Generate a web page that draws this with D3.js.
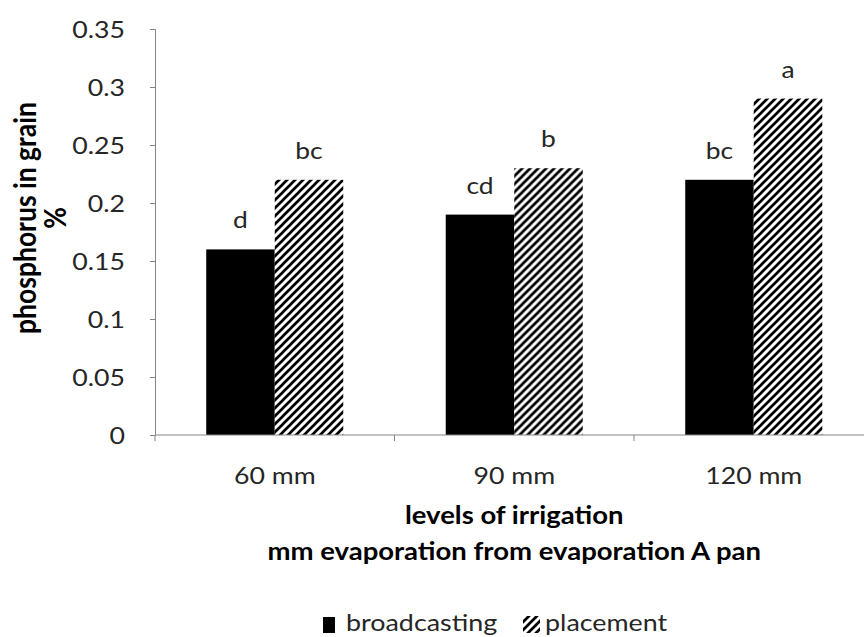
<!DOCTYPE html>
<html>
<head>
<meta charset="utf-8">
<script src="https://cdn.jsdelivr.net/npm/d3@7"></script>
<style>
  body { margin: 0; background: #fff; }
  svg { display: block; font-family: Lato, "Open Sans", sans-serif; }
</style>
</head>
<body>
<div id="chart"></div>
<script>
// data
const categories = ["60 mm", "90 mm", "120 mm"];
const seriesNames = ["broadcasting", "placement"];
const broadcasting = [0.16, 0.19, 0.22];
const placement = [0.22, 0.23, 0.29];
const broadcastingLetters = ["d", "cd", "bc"];
const placementLetters = ["bc", "b", "a"];
const yTicks = [0, 0.05, 0.1, 0.15, 0.2, 0.25, 0.3, 0.35];

const W = 864, H = 637;
const MARGIN = { LEFT: 155, TOP: 29, RIGHT: -9.5, BOTTOM: 202 };
const AXIS = "#868686";
const INK = "#262626";
const SX = 1.16;   // the original text is a bit wide

const svg = d3.select("#chart").append("svg")
    .attr("width", W)
    .attr("height", H);

// diagonal hatch for "placement"
const hatch = svg.append("defs").append("pattern")
    .attr("id", "hatch")
    .attr("patternUnits", "userSpaceOnUse")
    .attr("width", 8)
    .attr("height", 8);
hatch.append("rect").attr("width", 8).attr("height", 8).attr("fill", "#fff");
hatch.append("path")
    .attr("d", "M-2,2 l4,-4 M0,8 l8,-8 M6,10 l4,-4")
    .attr("stroke", "#000")
    .attr("stroke-width", 2.7);

function label(parent, tx, ty, txt, opts) {
    opts = opts || {};
    return parent.append("text")
        .attr("transform", `translate(${tx},${ty}) scale(${opts.sx || SX},1)`)
        .attr("text-anchor", opts.anchor || "middle")
        .attr("font-size", (opts.size || 23) + "px")
        .attr("font-weight", opts.bold ? "bold" : null)
        .attr("fill", opts.bold ? "#000" : INK)
        .text(txt);
}

const x = d3.scaleBand()
    .domain(categories)
    .range([MARGIN.LEFT, W - MARGIN.RIGHT]);

const x1 = d3.scaleBand()
    .domain(seriesNames)
    .range([0, x.bandwidth()])
    .paddingOuter(0.748);

const y = d3.scaleLinear()
    .domain([0, 0.35])
    .range([H - MARGIN.BOTTOM, MARGIN.TOP]);

const fill = { broadcasting: "#000", placement: "url(#hatch)" };

// y axis
const yAxis = svg.append("g")
    .attr("transform", `translate(${MARGIN.LEFT},0)`)
    .call(d3.axisLeft(y).tickValues(yTicks).tickSize(5)
        .tickFormat(d => String(+d.toFixed(2))));
yAxis.selectAll("line, path").attr("stroke", AXIS);
yAxis.selectAll("text")
    .attr("x", 0)
    .attr("dy", "0.36em")
    .attr("transform", `translate(-30,0) scale(${SX},1)`)
    .attr("font-size", "23px")
    .attr("font-family", "Lato")
    .attr("fill", INK);

// bars
const rows = categories.map((c, i) => ({
    cat: c,
    vals: [
        { s: "broadcasting", v: broadcasting[i], l: broadcastingLetters[i] },
        { s: "placement", v: placement[i], l: placementLetters[i] }
    ]
}));

const grp = svg.selectAll("g.grp")
    .data(rows)
    .enter().append("g")
    .attr("class", "grp")
    .attr("transform", d => `translate(${x(d.cat)},0)`);

grp.selectAll("rect")
    .data(d => d.vals)
    .enter().append("rect")
    .attr("x", d => x1(d.s))
    .attr("width", x1.bandwidth())
    .attr("y", d => y(d.v))
    .attr("height", d => y(0) - y(d.v))
    .attr("fill", d => fill[d.s]);

grp.each(function(d) {
    const g = d3.select(this);
    d.vals.forEach(v => {
        label(g, x1(v.s) + x1.bandwidth() / 2, y(v.v) - 21, v.l, { size: 24, sx: 1.1 });
    });
});

// x axis
const xAxis = svg.append("g")
    .attr("transform", `translate(0,${y(0)})`);
xAxis.append("line")
    .attr("x1", MARGIN.LEFT).attr("x2", W)
    .attr("stroke", AXIS);
const bounds = categories.map(c => x(c)).concat([x(categories[2]) + x.bandwidth()]);
xAxis.selectAll("line.tk")
    .data(bounds)
    .enter().append("line")
    .attr("class", "tk")
    .attr("x1", d => d).attr("x2", d => d)
    .attr("y1", 0).attr("y2", 6)
    .attr("stroke", AXIS);
categories.forEach(c => label(xAxis, x(c) + x.bandwidth() / 2, 49, c));

// axis titles
const cx = MARGIN.LEFT + (x.range()[1] - MARGIN.LEFT) / 2;
label(svg, cx, 524, "levels of irrigation", { size: 25, bold: true, sx: 1.1 });
label(svg, cx, 560, "mm evaporation from evaporation A pan", { size: 25, bold: true, sx: 1.1 });

const yt = svg.append("text")
    .attr("transform", "translate(0,218) scale(1.12,1) rotate(-90)")
    .attr("text-anchor", "middle")
    .attr("font-size", "26.5px").attr("font-weight", "bold");
yt.append("tspan").attr("x", 0).attr("y", 32).text("phosphorus in grain");
yt.append("tspan").attr("x", 0).attr("y", 59).text("%");

// legend
const legend = svg.append("g").attr("transform", "translate(0,617)");
legend.append("rect")
    .attr("x", 323).attr("y", 0)
    .attr("width", 12).attr("height", 16)
    .attr("fill", fill.broadcasting);
legend.append("rect")
    .attr("x", 523).attr("y", -1)
    .attr("width", 17).attr("height", 17)
    .attr("fill", fill.placement);
label(legend, 346, 14, seriesNames[0], { size: 24, anchor: "start", sx: 1.12 });
label(legend, 545, 14, seriesNames[1], { size: 24, anchor: "start", sx: 1.12 });
</script>
</body>
</html>
